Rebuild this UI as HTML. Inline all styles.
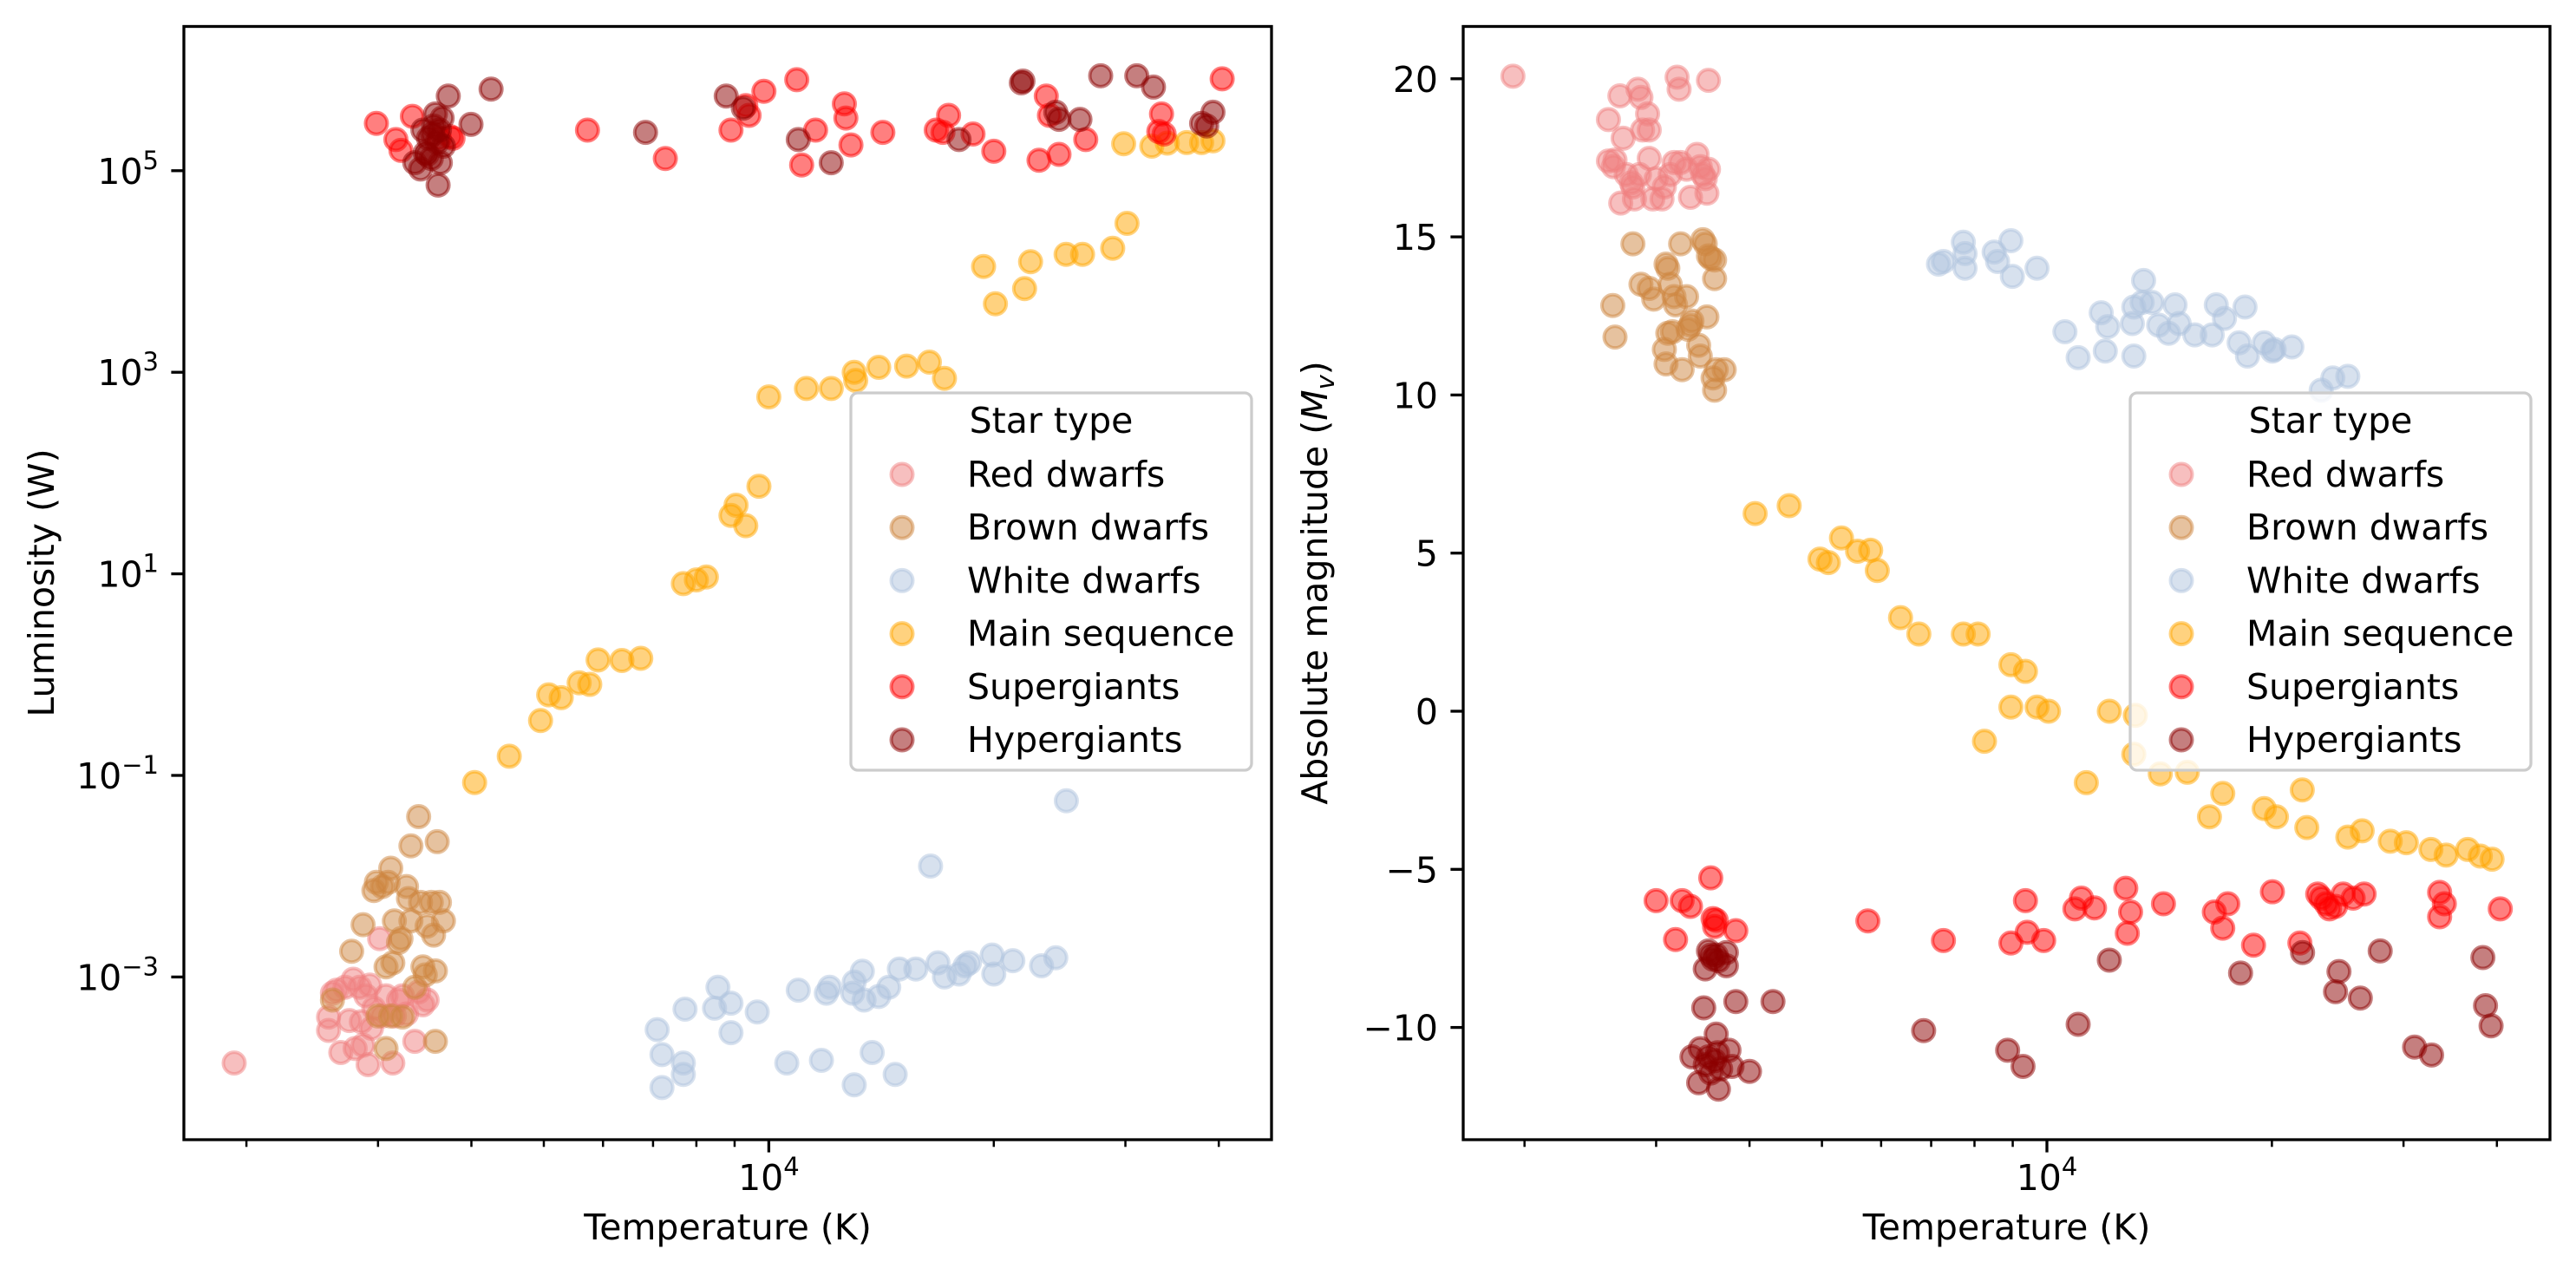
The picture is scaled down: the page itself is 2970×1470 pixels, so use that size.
<!DOCTYPE html>
<html><head><meta charset="utf-8"><style>
html,body{margin:0;padding:0;background:#fff;}
svg{display:block;font-family:"DejaVu Sans","Liberation Sans",sans-serif;}
</style></head><body>
<svg id="fig" width="2970" height="1470" viewBox="0 0 2970 1470" xmlns="http://www.w3.org/2000/svg"></svg>
<script>
// ---------- LEFT CHART DATA (Temperature K, Luminosity W) ----------
const categories = ["Red dwarfs","Brown dwarfs","White dwarfs","Main sequence","Supergiants","Hypergiants"];
const colors = ["#f08080","#cd853f","#b0c4de","#ffa500","#ff0000","#8b0000"];
const leftTickExps = [-3,-1,1,3,5];
const rightTickVals = [20,15,10,5,0,-5,-10];
const xMinorTicks = [2000,3000,4000,5000,6000,7000,8000,9000,20000,30000,40000];

const lRedT = [1926,2576,2576,2607,2640,2675,2746,2780,2796,2836,2850,2865,2910,2925,2940,2962,3015,3040,3075,3140,3155,3195,3235,3275,3360,3400,3445,3490,2890,2710];
const lRedL = [0.00014,0.000295,0.0004,0.00069,0.00074,0.000178,0.00037,0.00095,0.000195,0.00079,0.00036,0.00021,0.000135,0.00083,0.00031,0.00049,0.0024,0.00041,0.00065,0.00014,0.00041,0.00059,0.00065,0.00043,0.00023,0.00071,0.00053,0.00059,0.00065,0.00079];
const lBrownT = [2607,2766,2865,2962,2985,3040,3095,3120,3075,3140,3155,3195,3220,3235,3275,3295,3320,3320,3360,3400,3420,3445,3470,3490,3535,3560,3580,3600,3625,3670,3580,3075,3000,3120];
const lBrownL = [0.00059,0.0018,0.0033,0.0072,0.0087,0.0079,0.0087,0.012,0.00126,0.00138,0.0036,0.0022,0.0024,0.0004,0.0079,0.006,0.0036,0.02,0.00079,0.039,0.0055,0.00126,0.00105,0.0032,0.0055,0.0026,0.00023,0.022,0.0055,0.0036,0.00115,0.000195,0.00041,0.00041];
const lWhiteT = [7090,7195,7195,7685,7685,7725,8460,8550,8900,8900,9650,10570,10950,11760,11940,12060,12950,13010,13010,13340,13410,13750,14030,14470,14760,14950,15730,16460,16840,17180,17970,18310,18550,19900,20000,21210,23170,24210,25010];
const lWhiteL = [0.0003,0.00017,0.00008,0.00014,0.000108,0.00048,0.00049,0.00079,0.00055,0.00028,0.00045,0.00014,0.00074,0.000149,0.00069,0.00079,0.00069,0.000085,0.00089,0.00114,0.00059,0.000178,0.00064,0.00079,0.000108,0.0012,0.0012,0.0126,0.00138,0.001,0.00107,0.00129,0.00138,0.00165,0.00107,0.00145,0.00129,0.00155,0.056];
const lMainT = [4040,4495,4950,5075,5275,5575,5760,5910,6360,6740,7685,8000,8250,8900,9040,9315,9700,10000,11230,12120,13010,13070,14030,15290,16400,17180,19380,20100,21990,22400,24990,26290,28850,30150,29840,32540,34130,36240,37940,39290];
const lMainL = [0.085,0.155,0.35,0.63,0.59,0.83,0.8,1.4,1.38,1.45,8.0,8.7,9.3,38,48,30,74,570,690,690,1000,830,1120,1150,1260,870,11200,4780,6760,12500,14800,14800,17000,30000,185000,175000,188000,190000,190000,198000];
const lSuperT = [2985,3170,3220,3335,3625,3745,3780,5720,7270,8900,9315,9410,9850,10900,11065,11550,12620,12680,12880,14210,16750,17100,17400,18760,20000,22990,23510,23740,24450,26550,33530,33250,33800,40420];
const lSuperL = [295000,204000,159000,346000,210000,218000,210000,253000,132000,253000,443000,354000,614000,800000,114000,253000,460000,333000,180000,240000,253000,240000,354000,231000,156000,127000,550000,354000,145000,204000,366000,245000,231000,815000];
const lHyperT = [3360,3420,3470,3505,3535,3560,3580,3600,3610,3625,3655,3670,3550,3445,3490,3635,3725,3995,4250,6840,8770,9245,10950,12120,17970,21770,21880,24210,24450,26080,27800,31070,32710,37940,38540,39290];
const lHyperL = [120000,104000,150000,210000,132000,278000,366000,191000,72000,253000,333000,175000,231000,253000,145000,120000,550000,288000,645000,240000,550000,417000,204000,120000,204000,745000,775000,380000,323000,323000,875000,875000,675000,295000,278000,380000];

// ---------- RIGHT CHART DATA (Temperature K, Absolute magnitude) ----------
const rRedT = [1930,2590,2590,2630,2643,2683,2710,2690,2736,2780,2793,2806,2837,2850,2863,2877,2922,2937,2937,2970,3000,3055,3077,3133,3170,3200,3220,3235,3295,3335,3403,3437,3465,3490,3508,3525,3525];
const rRedM = [20.08,18.71,17.40,17.22,17.43,19.46,18.12,16.07,16.97,16.71,16.58,16.20,19.67,16.97,19.41,18.38,18.89,18.38,17.48,16.20,16.84,16.20,16.58,16.97,17.35,20.05,19.67,17.35,17.14,16.25,17.61,17.22,16.97,16.84,16.38,17.14,19.95];
const rBrownT = [2625,2643,2793,2863,2937,2978,3093,3110,3077,3093,3110,3133,3155,3170,3185,3235,3250,3295,3310,3335,3350,3420,3437,3465,3490,3508,3525,3550,3592,3575,3592,3610,3700,3592];
const rBrownM = [12.83,11.83,14.78,13.50,13.37,13.03,14.14,14.01,11.44,10.98,11.95,13.50,12.0,13.11,12.85,14.78,10.80,13.11,12.08,12.21,12.34,11.57,11.23,14.91,14.78,12.47,14.40,14.32,13.68,10.54,10.15,10.80,10.80,14.27];
const rWhiteT = [7160,7270,7730,7770,7770,8500,8590,8950,8990,9700,10570,11010,11820,11970,12060,13010,13070,13070,13410,13470,13820,14110,14550,14840,15030,15770,16640,16850,17280,18080,18410,18550,19530,20030,20140,21270,23280,24130,25270];
const rWhiteM = [14.14,14.22,14.83,14.47,14.01,14.52,14.22,14.88,13.75,14.01,12.0,11.18,12.60,11.39,12.16,12.26,11.23,12.78,12.93,13.62,12.93,12.21,11.95,12.85,12.26,11.90,11.90,12.85,12.42,11.65,12.78,11.23,11.65,11.39,11.44,11.52,10.15,10.54,10.59];
const rMainT = [4070,4520,4970,5100,5310,5580,5810,5930,6370,6740,7730,8090,8950,9360,8950,9700,10050,8250,11290,12120,13130,13070,14180,15410,16500,17190,19530,20280,21960,22270,25270,26410,28800,30260,32640,34210,36560,38010,39410];
const rMainM = [6.25,6.50,4.81,4.70,5.48,5.06,5.09,4.45,2.96,2.44,2.44,2.44,1.47,1.26,0.13,0.13,0.0,-0.95,-2.26,0.0,-0.13,-1.36,-1.98,-1.93,-3.34,-2.60,-3.08,-3.34,-2.49,-3.68,-3.98,-3.78,-4.11,-4.16,-4.37,-4.55,-4.37,-4.58,-4.68];
const rSuperT = [3000,3185,3250,3335,3550,3575,3592,3610,3835,5760,7270,8950,9360,9410,9900,10900,11120,11580,12750,12810,12940,14320,16750,17190,17460,18900,20030,21800,23030,23280,23640,23880,24330,24910,25690,26570,33530,33530,34020,40420];
const rSuperM = [-5.99,-7.22,-5.99,-6.17,-5.27,-6.56,-6.81,-6.61,-6.94,-6.63,-7.25,-7.33,-5.99,-6.99,-7.25,-6.25,-5.91,-6.22,-5.60,-7.02,-6.35,-6.09,-6.35,-6.86,-6.09,-7.40,-5.71,-7.33,-5.78,-5.91,-6.09,-6.25,-6.17,-5.78,-5.91,-5.78,-5.73,-6.50,-6.09,-6.25];
const rHyperT = [3490,3525,3550,3575,3610,3635,3725,3725,3474,3835,3610,3350,3437,3490,3525,3550,3592,3625,3660,3755,3420,3635,3790,4000,4300,6840,8860,9290,11010,12120,18160,21980,24590,24330,26260,27920,31040,32710,38310,38620,39290];
const rHyperM = [-8.15,-7.58,-7.71,-7.84,-7.71,-7.89,-7.63,-8.05,-9.38,-9.18,-10.21,-10.93,-10.67,-11.18,-10.93,-11.44,-11.05,-10.80,-11.31,-10.72,-11.75,-11.95,-11.23,-11.39,-9.18,-10.10,-10.72,-11.23,-9.90,-7.87,-8.28,-7.63,-8.23,-8.87,-9.07,-7.58,-10.62,-10.87,-7.79,-9.31,-9.95];

const leftSeries = [[lRedT,lRedL],[lBrownT,lBrownL],[lWhiteT,lWhiteL],[lMainT,lMainL],[lSuperT,lSuperL],[lHyperT,lHyperL]];
const rightSeries = [[rRedT,rRedM],[rBrownT,rBrownM],[rWhiteT,rWhiteM],[rMainT,rMainM],[rSuperT,rSuperM],[rHyperT,rHyperM]];

// ---------- axis functions ----------
const DEC = 861.7;
function xL(T){ return 886.4 + (Math.log10(T) - 4) * DEC; }
function xR(T){ return 2360 + (Math.log10(T) - 4) * DEC; }
function yL(L){ return 196.8 - (Math.log10(L) - 5) * 116.2; }
function yR(M){ return 820 - M * 36.46; }

const NS = "http://www.w3.org/2000/svg";
const fig = document.getElementById("fig");
function mk(tag, attrs, parent){
  const e = document.createElementNS(NS, tag);
  for (const k in attrs) e.setAttribute(k, attrs[k]);
  (parent || fig).appendChild(e);
  return e;
}
const FS = 41;

function drawAxes(x0, x1, y0, y1, xf, prefix){
  const g = mk("g", {});
  
  
  // x minor ticks
  xMinorTicks.forEach(t => {
    const x = xf(t);
    const tk = mk("line", {x1:x, x2:x, y1:y1, y2:y1+8.3, stroke:"#000", "stroke-width":2.5}, g);
    
    
  });
  const xm = xf(10000);
  const mt = mk("line", {x1:xm, x2:xm, y1:y1, y2:y1+14.6, stroke:"#000", "stroke-width":3.3}, g);
  
  
  const xt = mk("text", {x:xm, y:y1+58, "font-size":FS, "text-anchor":"middle"}, g);
  
  
  xt.innerHTML = '10<tspan dy="-17" font-size="29">4</tspan>';
  const xl = mk("text", {x:(x0+x1)/2, y:y1+115, "font-size":FS, "text-anchor":"middle"}, g);
  
  
  xl.textContent = "Temperature (K)";
  return g;
}

function drawScatter(series, xf, yf, prefix){
  series.forEach((s, i) => {
    const g = mk("g", {fill:colors[i], stroke:colors[i], "fill-opacity":0.5, "stroke-opacity":0.5, "stroke-width":4});
    
    
    const ts = s[0], vs = s[1];
    for (let k = 0; k < ts.length; k++){
      const c = mk("circle", {cx:xf(ts[k]), cy:yf(vs[k]), r:12.5}, g);
      
      
    }
  });
}

function drawLegend(x, prefix){
  const g = mk("g", {});
  
  
  const r = mk("rect", {x:x, y:453, width:462, height:435, rx:8, fill:"#fff", "fill-opacity":0.8, stroke:"#cccccc", "stroke-width":3.3}, g);
  
  
  const t = mk("text", {x:x+231, y:499, "font-size":FS, "text-anchor":"middle"}, g);
  
  
  t.textContent = "Star type";
  categories.forEach((c, i) => {
    const y = 547 + i * 61.2;
    const m = mk("circle", {cx:x+59, cy:y, r:12.5, fill:colors[i], stroke:colors[i], "fill-opacity":0.5, "stroke-opacity":0.5, "stroke-width":4}, g);
    
    
    const lt = mk("text", {x:x+134, y:y+14, "font-size":FS}, g);
    
    
    lt.textContent = c;
  });
}

// ---------- LEFT PANEL ----------
const LX0 = 212, LX1 = 1466, Y0 = 30.5, Y1 = 1314;
drawAxes(LX0, LX1, Y0, Y1, xL, 'left');
leftTickExps.forEach(e => {
  const y = yL(Math.pow(10, e));
  const tk = mk("line", {x1:LX0-14.6, x2:LX0, y1:y, y2:y, stroke:"#000", "stroke-width":3.3});
  
  
  const tl = mk("text", {x:LX0-29, y:y+15, "font-size":FS, "text-anchor":"end"});
  
  
  tl.innerHTML = '10<tspan dy="-17" font-size="29">' + (e < 0 ? '\u2212' + (-e) : e) + '</tspan>';
});
const lyl = mk("text", {x:0, y:0, "font-size":FS, "text-anchor":"middle", transform:"translate(62,672) rotate(-90)"});


lyl.textContent = "Luminosity (W)";
drawScatter(leftSeries, xL, yL, 'left');
drawLegend(981, 'left');
const lf = mk("rect", {x:LX0, y:Y0, width:LX1-LX0, height:Y1-Y0, fill:"none", stroke:"#000", "stroke-width":3.3});



// ---------- RIGHT PANEL ----------
const RX0 = 1687, RX1 = 2940;
drawAxes(RX0, RX1, Y0, Y1, xR, 'right');
rightTickVals.forEach(v => {
  const y = yR(v);
  const tk = mk("line", {x1:RX0-14.6, x2:RX0, y1:y, y2:y, stroke:"#000", "stroke-width":3.3});
  
  
  const tl = mk("text", {x:RX0-29, y:y+15, "font-size":FS, "text-anchor":"end"});
  
  
  tl.textContent = v < 0 ? '\u2212' + (-v) : String(v);
});
const ryl = mk("text", {x:0, y:0, "font-size":FS, "text-anchor":"middle", transform:"translate(1530,672) rotate(-90)"});


ryl.innerHTML = 'Absolute magnitude (<tspan font-style="italic">M</tspan><tspan font-size="29" dy="8" font-style="italic">v</tspan><tspan dy="-8">)</tspan>';
drawScatter(rightSeries, xR, yR, 'right');
drawLegend(2456, 'right');
const rf = mk("rect", {x:RX0, y:Y0, width:RX1-RX0, height:Y1-Y0, fill:"none", stroke:"#000", "stroke-width":3.3});


</script>
</body></html>
